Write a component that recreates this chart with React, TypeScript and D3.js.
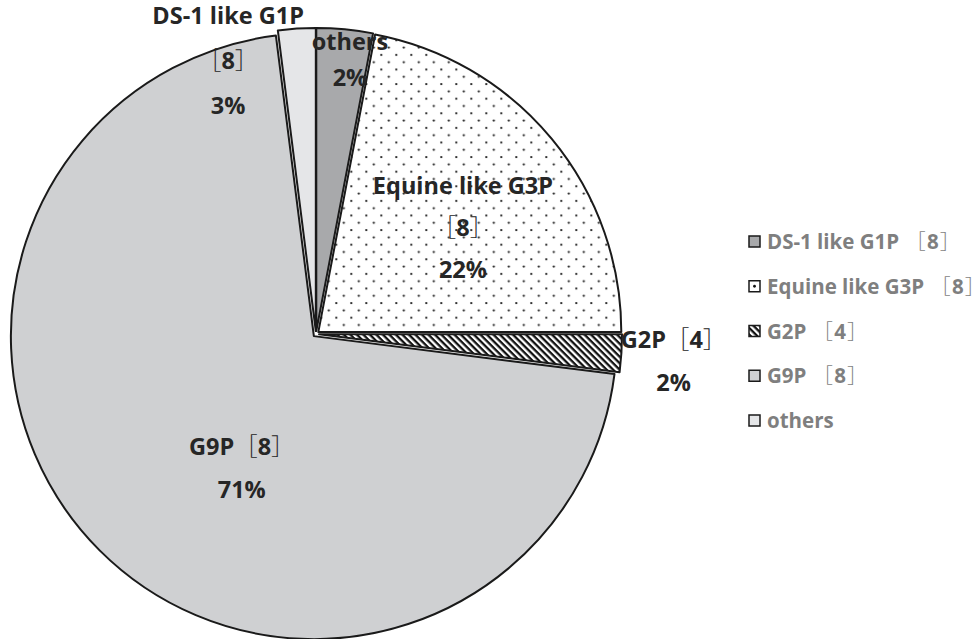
import * as d3 from 'd3';

const categories = ['DS-1 like G1P', 'Equine like G3P', 'G2P', 'G9P', 'others'];
const strainCounts = ['8', '8', '4', '8', ''];
const percents = [3, 22, 2, 71, 2];

const fills = ['#a8a9ab', 'url(#dots)', 'url(#hatch)', '#cfd0d2', '#e5e6e8'];

// label placement (in radius units from pie centre), line gap, and whether bracket goes on its own line
const labelLayout = [
  { dx: -0.29, dy: -0.903, gap: 45, split: true },
  { dx: 0.485, dy: -0.35, gap: 42, split: true },
  { dx: 1.18, dy: 0.091, gap: 43, split: false },
  { dx: -0.245, dy: 0.444, gap: 43, split: false },
  { dx: 0.112, dy: -0.904, gap: 36, split: false },
];

const width = 979;
const height = 639;
const cx = 316;
const cy = 334;
const radius = 303;
const explode = 3;
const font = "'Open Sans', 'Noto Sans CJK JP', sans-serif";

// full-width brackets drawn thin; pad adds extra space before the opening bracket (legend)
const bracketed = (s: string, pad = 0) =>
  s.split(/([［］])/).filter(Boolean).map((p, i) =>
    p === '［' || p === '］' ? (
      <tspan key={i} dx={p === '［' && i > 0 ? pad : pad / 5} fontWeight={300} fontFamily="'Noto Sans CJK JP'">{p}</tspan>
    ) : (
      <tspan key={i} dx={i > 0 ? pad / 5 : 0}>{p}</tspan>
    )
  );

export default function App() {
  const rows = categories.map((c, i) => ({ name: c, count: strainCounts[i], value: percents[i] }));
  const pie = d3.pie<(typeof rows)[number]>().sort(null).value((d) => d.value);
  const arcs = pie(rows);
  const arc = d3.arc<d3.PieArcDatum<(typeof rows)[number]>>().innerRadius(0).outerRadius(radius);

  const legendY = d3.scalePoint<string>().domain(categories).range([242, 421]);

  return (
    <svg width={width} height={height} style={{ position: 'absolute', left: 0, top: 0 }} fontFamily={font}>
      <defs>
        <pattern id="dots" width={15} height={14.6} patternUnits="userSpaceOnUse" x={cx} y={cy}>
          <rect width={15} height={14.6} fill="#fff" />
          <circle cx={2} cy={2} r={1.1} fill="#111" />
          <circle cx={9.5} cy={9.3} r={1.1} fill="#111" />
        </pattern>
        <pattern id="hatch" width={4.6} height={4.6} patternUnits="userSpaceOnUse" patternTransform="rotate(45)">
          <rect width={4.6} height={4.6} fill="#fff" />
          <rect width={4.6} height={2.3} fill="#111" />
        </pattern>
      </defs>

      <g transform={`translate(${cx},${cy})`}>
        {arcs.map((a, i) => {
          const mid = (a.startAngle + a.endAngle) / 2;
          const ox = Math.sin(mid) * explode;
          const oy = -Math.cos(mid) * explode;
          return (
            <path
              key={i}
              d={arc(a) ?? ''}
              transform={`translate(${ox},${oy})`}
              fill={fills[i]}
              stroke="#1a1a1a"
              strokeWidth={2}
              strokeLinejoin="round"
            />
          );
        })}

        {arcs.map((a, i) => {
          const L = labelLayout[i];
          const d = a.data;
          const br = d.count ? `［${d.count}］` : '';
          const lines = L.split ? [d.name, br, `${d.value}%`] : [d.name + br, `${d.value}%`];
          const x = L.dx * radius;
          const y0 = L.dy * radius - ((lines.length - 1) * L.gap) / 2;
          return (
            <text key={i} textAnchor="middle" fontSize={23.5} fontWeight={700} fill="#262626">
              {lines.map((ln, j) => (
                <tspan key={j} x={x} y={y0 + j * L.gap} dy="0.35em">
                  {bracketed(ln)}
                </tspan>
              ))}
            </text>
          );
        })}
      </g>

      <g>
        {rows.map((d, i) => {
          const y = legendY(d.name) ?? 0;
          return (
            <g key={i}>
              <rect x={749} y={y - 6} width={11} height={11} fill={fills[i] === 'url(#dots)' ? '#fff' : fills[i]} stroke="#1a1a1a" strokeWidth={1.5} />
              {fills[i] === 'url(#dots)' && <circle cx={754.5} cy={y - 0.5} r={1.4} fill="#111" />}
              <text x={767} y={y} dy="0.35em" fontSize={20.5} fontWeight={700} fill="#7f7f7f">
                {bracketed(d.name + (d.count ? `［${d.count}］` : ''), 6)}
              </text>
            </g>
          );
        })}
      </g>
    </svg>
  );
}
